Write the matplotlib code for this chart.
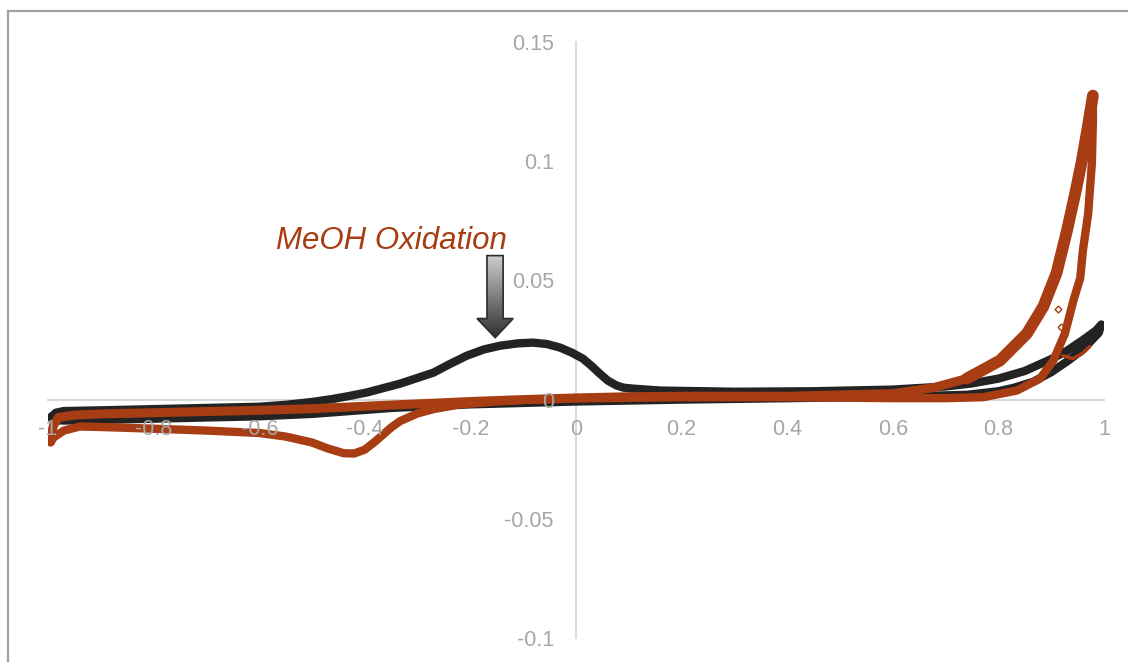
import numpy as np
import matplotlib
matplotlib.use("Agg")
import matplotlib.pyplot as plt
from matplotlib.colors import LinearSegmentedColormap
from matplotlib.lines import Line2D
from matplotlib.patches import Polygon
from matplotlib.ticker import FuncFormatter

plt.rcParams["font.family"] = ["Liberation Sans", "DejaVu Sans"]
plt.rcParams["axes.unicode_minus"] = False

# black curve (anodic then cathodic sweep)
black_fwd_x = [-0.995, -0.985, -0.97, -0.9, -0.8, -0.7, -0.6, -0.55, -0.5, -0.46, -0.43,
               -0.396, -0.333, -0.27, -0.24, -0.207, -0.175, -0.144, -0.11, -0.081, -0.055,
               -0.03, -0.008, 0.013, 0.03, 0.045, 0.06, 0.077, 0.09, 0.108, 0.159, 0.3, 0.45,
               0.6, 0.7, 0.75, 0.8, 0.85, 0.9, 0.93, 0.96, 0.985, 0.995]
black_fwd_y = [-0.0075, -0.0055, -0.0048, -0.0045, -0.004, -0.0035, -0.003, -0.0022, -0.001,
               0.0003, 0.0015, 0.003, 0.0067, 0.0113, 0.0148, 0.0184, 0.021, 0.0226, 0.0236,
               0.0239, 0.0233, 0.0218, 0.0197, 0.0172, 0.014, 0.0109, 0.008, 0.0059, 0.005,
               0.0046, 0.0038, 0.0033, 0.0035, 0.0042, 0.0055, 0.0068, 0.0088, 0.012, 0.017,
               0.0205, 0.025, 0.029, 0.0315]
black_rev_x = [0.995, 0.99, 0.96, 0.93, 0.9, 0.866, 0.83, 0.8, 0.74, 0.6, 0.4, 0.2, 0.0,
               -0.2, -0.35, -0.5, -0.6, -0.7, -0.8, -0.9, -0.97, -0.99, -0.995]
black_rev_y = [0.0315, 0.028, 0.021, 0.016, 0.0115, 0.0075, 0.005, 0.0035, 0.002, 0.0012,
               0.0006, 0.0, -0.0008, -0.002, -0.0035, -0.006, -0.007, -0.0075, -0.008,
               -0.0085, -0.0088, -0.0085, -0.0075]

# red curve
red_start_x = [0.922, 0.941, 0.958, 0.973]
red_start_y = [0.0184, 0.0172, 0.0192, 0.0222]
red_rev_x = [0.979, 0.979, 0.977, 0.97, 0.96, 0.955, 0.942, 0.926, 0.904, 0.879, 0.835,
             0.771, 0.7, 0.6, 0.4, 0.2, 0.0, -0.1, -0.15, -0.22, -0.27, -0.3, -0.333, -0.35,
             -0.38, -0.4, -0.42, -0.44, -0.47, -0.5, -0.55, -0.6, -0.7, -0.8, -0.9, -0.94,
             -0.97, -0.99, -0.995]
red_rev_y = [0.1275, 0.117, 0.099, 0.078, 0.0625, 0.051, 0.0415, 0.0277, 0.0164, 0.0088,
             0.0038, 0.001, 0.0006, 0.0006, 0.001, 0.001, 0.0005, -0.0002, -0.0008, -0.002,
             -0.004, -0.0058, -0.009, -0.0117, -0.0175, -0.021, -0.0226, -0.0225, -0.0205,
             -0.018, -0.0155, -0.014, -0.013, -0.0122, -0.0115, -0.0113, -0.013, -0.016,
             -0.018]
red_fwd_x = [-0.995, -0.99, -0.98, -0.95, -0.9, -0.8, -0.7, -0.6, -0.5, -0.4, -0.3, -0.2,
             -0.1, 0.0, 0.1, 0.2, 0.4, 0.6, 0.677, 0.74, 0.803, 0.854, 0.885, 0.91, 0.93,
             0.945, 0.958, 0.969, 0.979]
red_fwd_y = [-0.016, -0.011, -0.0075, -0.0065, -0.006, -0.0055, -0.005, -0.0045, -0.0038,
             -0.0028, -0.0018, -0.0008, 0.0, 0.0007, 0.0012, 0.0014, 0.0014, 0.0025, 0.005,
             0.0088, 0.0164, 0.0277, 0.039, 0.053, 0.071, 0.086, 0.1, 0.114, 0.1275]
red_stray_x = [0.913, 0.919]
red_stray_y = [0.038, 0.0306]

x_ticks = [-1, -0.8, -0.6, -0.4, -0.2, 0, 0.2, 0.4, 0.6, 0.8, 1]
y_ticks = [-0.1, -0.05, 0, 0.05, 0.1, 0.15]

label_text = "MeOH Oxidation"
label_pos = (-0.35, 0.0633)
# block arrow outline (data units)
arrow_pts = [(-0.1686, 0.0604), (-0.138, 0.0604), (-0.138, 0.034), (-0.119, 0.034),
             (-0.153, 0.026), (-0.1875, 0.034), (-0.1686, 0.034)]

BLACK = "#232323"
RED = "#a83c13"
AXIS = "#d9d9d9"
TICK = "#a6a6a6"

fig = plt.figure(figsize=(11.28, 6.62), dpi=100)
ax = fig.add_axes([48 / 1128, 24 / 662, 1056 / 1128, 596 / 662])

ax.plot(black_fwd_x + black_rev_x, black_fwd_y + black_rev_y, color=BLACK, lw=6,
        solid_capstyle="round", solid_joinstyle="round", zorder=3)
ax.plot(red_start_x, red_start_y, color=RED, lw=2.5, solid_capstyle="round", zorder=4)
ax.plot(red_rev_x, red_rev_y, color=RED, lw=6, solid_capstyle="round",
        solid_joinstyle="round", zorder=4)
ax.plot(red_fwd_x, red_fwd_y, color=RED, lw=6.5, solid_capstyle="round",
        solid_joinstyle="round", zorder=4)
# repeated cycles make the steep anodic part look wider
steep = red_fwd_x.index(0.74)
ax.plot(red_fwd_x[steep:], red_fwd_y[steep:], color=RED, lw=8.5, solid_capstyle="round",
        solid_joinstyle="round", zorder=4)
ax.plot(red_stray_x, red_stray_y, ls="none", marker="D", ms=3.5, mfc="none", mec=RED,
        mew=1, zorder=4)

ax.set_xlim(-1, 1)
ax.set_ylim(-0.1, 0.15)

for side in ["top", "right"]:
    ax.spines[side].set_visible(False)
ax.spines["left"].set_position(("data", 0))
ax.spines["bottom"].set_position(("data", 0))
for side in ["left", "bottom"]:
    ax.spines[side].set_color(AXIS)
    ax.spines[side].set_linewidth(1.5)
    ax.spines[side].set_zorder(1)
# tick labels sit on top of the curves, axis lines below
ax.xaxis.set_zorder(5)
ax.yaxis.set_zorder(5)

fmt = FuncFormatter(lambda v, p: f"{v:g}")
ax.set_xticks(x_ticks)
ax.set_yticks(y_ticks)
ax.xaxis.set_major_formatter(fmt)
ax.yaxis.set_major_formatter(fmt)
ax.tick_params(axis="x", length=0, pad=14, labelsize=15.5, labelcolor=TICK)
ax.tick_params(axis="y", length=0, pad=16, labelsize=15.5, labelcolor=TICK)

ax.text(label_pos[0], label_pos[1], label_text, color=RED, fontsize=22.5, style="italic",
        ha="center", va="baseline", zorder=6)

# gradient filled arrow
poly = Polygon(arrow_pts, closed=True, fc="none", ec="#2b2b2b", lw=1.2, zorder=6)
ax.add_patch(poly)
xs = [p[0] for p in arrow_pts]
ys = [p[1] for p in arrow_pts]
cmap = LinearSegmentedColormap.from_list("arr", ["#cfcfcf", "#2e2e2e"])
grad = np.linspace(0, 1, 256).reshape(-1, 1)
im = ax.imshow(grad, cmap=cmap, aspect="auto", origin="upper",
               extent=[min(xs), max(xs), min(ys), max(ys)], zorder=5)
im.set_clip_path(poly)
ax.set_xlim(-1, 1)
ax.set_ylim(-0.1, 0.15)

# outer chart border (top and left edges)
fig.add_artist(Line2D([8 / 1128, 1], [1 - 11 / 662, 1 - 11 / 662], color="#a0a0a0", lw=1.6))
fig.add_artist(Line2D([8 / 1128, 8 / 1128], [0, 1 - 11 / 662], color="#a0a0a0", lw=1.6))

fig.savefig("out.png", dpi=100)
